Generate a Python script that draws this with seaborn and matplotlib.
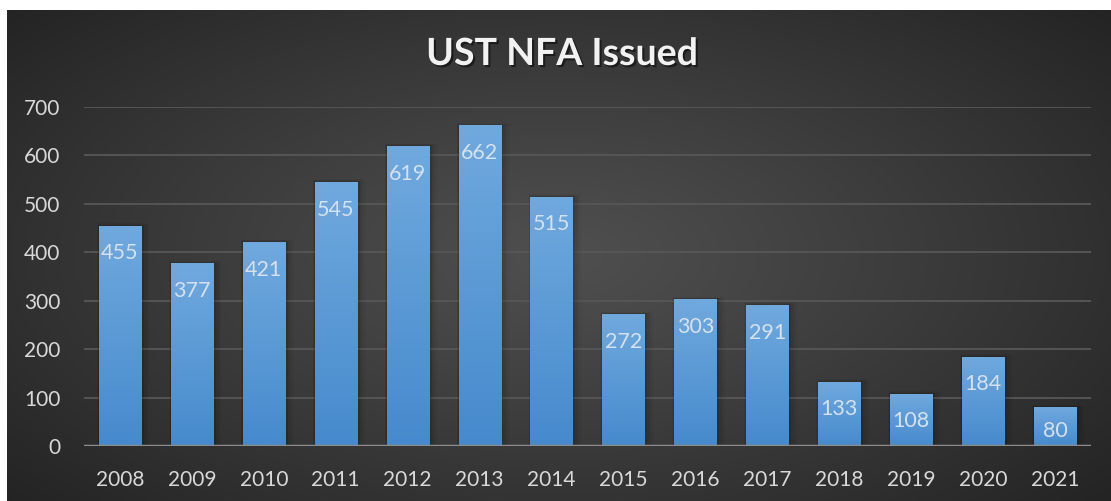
import numpy as np
import pandas as pd
import seaborn as sns
import matplotlib.pyplot as plt
import matplotlib.patheffects as pe

# data
years = ["2008", "2009", "2010", "2011", "2012", "2013", "2014",
         "2015", "2016", "2017", "2018", "2019", "2020", "2021"]
issued = [455, 377, 421, 545, 619, 662, 515, 272, 303, 291, 133, 108, 184, 80]
y_ticks = [0, 100, 200, 300, 400, 500, 600, 700]
chart_title = "UST NFA Issued"

df = pd.DataFrame({"year": years, "issued": issued})

sns.set_style("dark")
plt.rcParams["font.family"] = ["Lato", "DejaVu Sans"]

W, H = 1111, 501
fig = plt.figure(figsize=(W / 100, H / 100), dpi=100)
fig.patch.set_facecolor("white")

# dark panel with radial gradient
bg = fig.add_axes([7 / W, 0, 1 - 7 / W, 1 - 10 / H])
yy, xx = np.mgrid[-1:1:300j, -1:1:600j]
r = np.sqrt(xx ** 2 + (yy * 0.9) ** 2) / np.sqrt(1 + 0.81)
shade = 0.31 - 0.17 * np.clip(r, 0, 1) ** 1.1
img = np.dstack([shade, shade, shade])
bg.imshow(img, aspect="auto", extent=[0, 1, 0, 1], interpolation="bilinear")
bg.set_axis_off()
bg.set_zorder(0)

ax = fig.add_axes([84 / W, 1 - 446 / H, (1091 - 84) / W, (446 - 107) / H])
ax.set_zorder(1)
ax.patch.set_alpha(0)

sns.barplot(data=df, x="year", y="issued", color="#5b9bd5", width=0.585,
            saturation=1, ax=ax, zorder=3)

# vertical gradient on the bars
grad = np.linspace(0, 1, 256).reshape(-1, 1)
top_c = np.array([0x70, 0xa9, 0xde]) / 255
bot_c = np.array([0x46, 0x8a, 0xcd]) / 255
grad_img = top_c * (1 - grad[..., None]) + bot_c * grad[..., None]
for p in ax.patches:
    x0, w, h = p.get_x(), p.get_width(), p.get_height()
    # soft shadow
    for k, a in enumerate([0.10, 0.07, 0.04]):
        off = 0.03 * (k + 1)
        ax.add_patch(plt.Rectangle((x0 - off * 0.3, 0), w + off * 1.6, h + off * 60,
                                   color="black", alpha=a, lw=0, zorder=2))
    im = ax.imshow(grad_img, extent=[x0, x0 + w, 0, h], aspect="auto",
                   zorder=4, interpolation="bilinear")
    im.set_clip_path(p)
    p.set_edgecolor("none")

ax.set_xlim(-0.5, len(years) - 0.5)
ax.set_ylim(0, 700)
ax.set_yticks(y_ticks)
ax.grid(axis="y", color="#575757", lw=1.3, zorder=1)
ax.grid(axis="x", visible=False)
ax.axhline(0, color="#8c8c8c", lw=2.5, zorder=5)
for s in ax.spines.values():
    s.set_visible(False)

ax.tick_params(axis="x", length=0, pad=17, labelsize=15, labelcolor="#d9d9d9")
ax.tick_params(axis="y", length=0, pad=17, labelsize=15, labelcolor="#d9d9d9")
ax.set_xlabel("")
ax.set_ylabel("")

# value labels inside the bar tops
for i, v in enumerate(issued):
    off = min(57.0, v / 2 + 8)
    ax.text(i, v - off, str(v), ha="center", va="center", fontsize=15.5,
            color="#d6e1ee", zorder=6)

fig.text(562 / W, 1 - 54 / H, chart_title, ha="center", va="center",
         fontsize=27, fontweight="bold", color="#f2f2f2",
         path_effects=[pe.withSimplePatchShadow(offset=(1.5, -1.5), alpha=0.5,
                                                shadow_rgbFace="black")])

fig.savefig("out.png", dpi=100, facecolor="white")
